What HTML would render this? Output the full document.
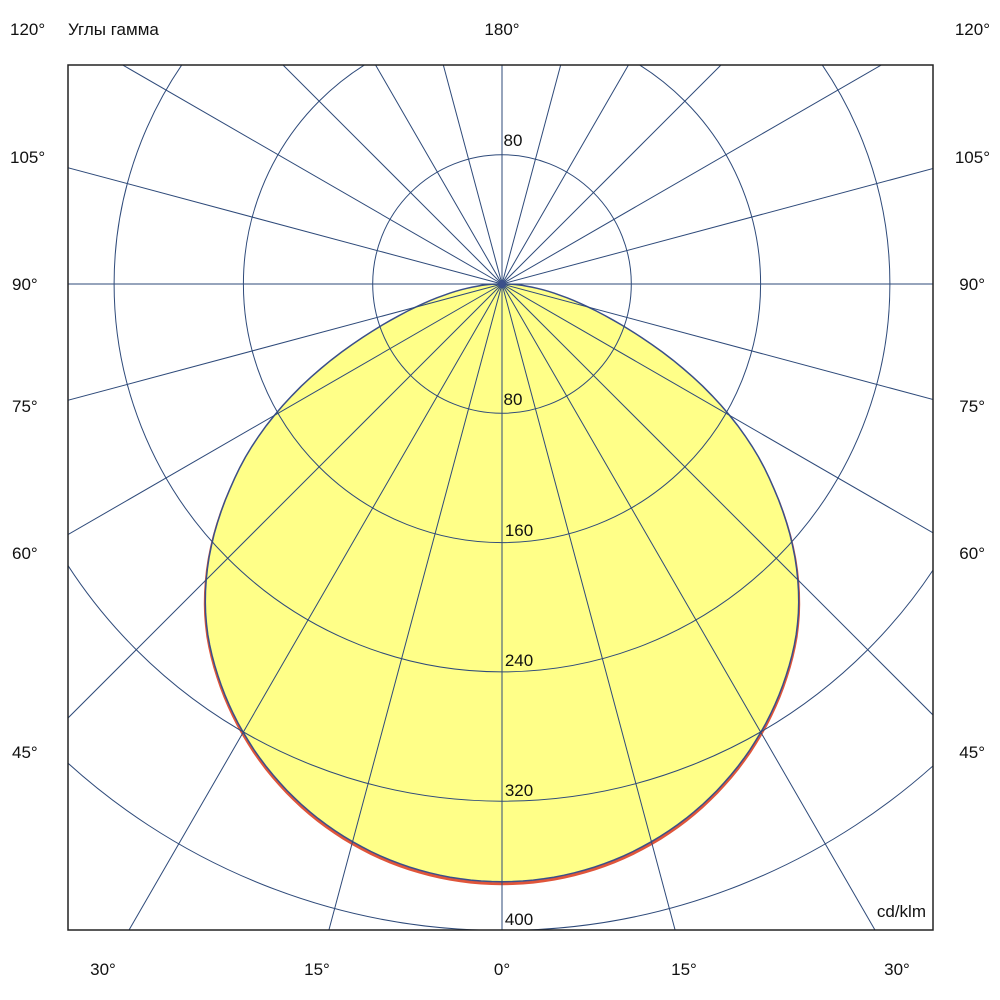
<!DOCTYPE html>
<html><head><meta charset="utf-8"><style>
html,body{margin:0;padding:0;background:#fff;overflow:hidden;}
svg{display:block;font-family:"Liberation Sans",Arial,sans-serif;}
</style></head><body>
<svg width="1000" height="1000" viewBox="0 0 1000 1000" xmlns="http://www.w3.org/2000/svg">
<defs><clipPath id="c"><rect x="68" y="65" width="865" height="865"/></clipPath></defs>
<g clip-path="url(#c)">
<path id="red" d="" fill="#ffff88" stroke="#e0553a" stroke-width="3" transform="translate(0,2)"/>
<path id="blue" d="" fill="#ffff88" stroke="#3a4f8a" stroke-width="1.5"/>
<g fill="none" stroke="#2e4a7a" stroke-width="1">
<circle cx="502" cy="284" r="129.3"/>
<circle cx="502" cy="284" r="258.6"/>
<circle cx="502" cy="284" r="387.9"/>
<circle cx="502" cy="284" r="517.2"/>
<circle cx="502" cy="284" r="646.5"/>
<g id="l"><line x1="502" y1="284" x2="502" y2="1300"/></g>
<use href="#l" transform="rotate(15 502 284)"/><use href="#l" transform="rotate(30 502 284)"/>
<use href="#l" transform="rotate(45 502 284)"/><use href="#l" transform="rotate(60 502 284)"/>
<use href="#l" transform="rotate(75 502 284)"/><use href="#l" transform="rotate(90 502 284)"/>
<use href="#l" transform="rotate(105 502 284)"/><use href="#l" transform="rotate(120 502 284)"/>
<use href="#l" transform="rotate(135 502 284)"/><use href="#l" transform="rotate(150 502 284)"/>
<use href="#l" transform="rotate(165 502 284)"/><use href="#l" transform="rotate(180 502 284)"/>
<use href="#l" transform="rotate(195 502 284)"/><use href="#l" transform="rotate(210 502 284)"/>
<use href="#l" transform="rotate(225 502 284)"/><use href="#l" transform="rotate(240 502 284)"/>
<use href="#l" transform="rotate(255 502 284)"/><use href="#l" transform="rotate(270 502 284)"/>
<use href="#l" transform="rotate(285 502 284)"/><use href="#l" transform="rotate(300 502 284)"/>
<use href="#l" transform="rotate(315 502 284)"/><use href="#l" transform="rotate(330 502 284)"/>
<use href="#l" transform="rotate(345 502 284)"/>
</g>
<circle cx="502" cy="284" r="4" fill="#3a4f8a"/>
</g>
<rect x="68" y="65" width="865" height="865" fill="none" stroke="#222" stroke-width="1.5"/>
<g font-size="17" fill="#111">
<text x="513" y="146" text-anchor="middle">80</text>
<text x="513" y="405" text-anchor="middle">80</text>
<text x="519" y="536" text-anchor="middle">160</text>
<text x="519" y="666" text-anchor="middle">240</text>
<text x="519" y="796" text-anchor="middle">320</text>
<text x="519" y="925" text-anchor="middle">400</text>
<text x="926" y="917" text-anchor="end">cd/klm</text>
<text x="68" y="35">Углы гамма</text>
<text x="502" y="35" text-anchor="middle">180°</text>
<text x="10" y="35">120°</text>
<text x="990" y="35" text-anchor="end">120°</text>
<text x="10" y="163">105°</text><text x="990" y="163" text-anchor="end">105°</text>
<text x="12" y="290">90°</text><text x="985" y="290" text-anchor="end">90°</text>
<text x="12" y="412">75°</text><text x="985" y="412" text-anchor="end">75°</text>
<text x="12" y="559">60°</text><text x="985" y="559" text-anchor="end">60°</text>
<text x="12" y="758">45°</text><text x="985" y="758" text-anchor="end">45°</text>
<text x="103" y="975" text-anchor="middle">30°</text>
<text x="317" y="975" text-anchor="middle">15°</text>
<text x="502" y="975" text-anchor="middle">0°</text>
<text x="684" y="975" text-anchor="middle">15°</text>
<text x="897" y="975" text-anchor="middle">30°</text>
</g>
</svg>
<script>
var T=[[0,1],[45,1],[61,0.89],[69.5,0.66],[75,0.55],[82,0.47],[90,0.42]];
function f(g){g=Math.abs(g);for(var i=1;i<T.length;i++){if(g<=T[i][0]){var a=T[i-1],b=T[i];return a[1]+(b[1]-a[1])*(g-a[0])/(b[0]-a[0]);}}return 0.42;}
function R(g){return 599*Math.max(0,Math.cos(g*Math.PI/180))*f(g);}
var pts=[];
for(var g=-90;g<=90;g+=1){
var s=0,n=0;for(var k=-6;k<=6;k++){var gg=Math.max(-90,Math.min(90,g+k));s+=R(gg);n++;}
var r=s/n; if(Math.abs(g)==90) r=0;
var rad=g*Math.PI/180;
pts.push((502+r*Math.sin(rad)).toFixed(1)+","+(284+r*Math.cos(rad)).toFixed(1));}
var d="M"+pts.join(" L")+" Z";
document.getElementById("red").setAttribute("d",d);
document.getElementById("blue").setAttribute("d",d);
</script>
</body></html>
